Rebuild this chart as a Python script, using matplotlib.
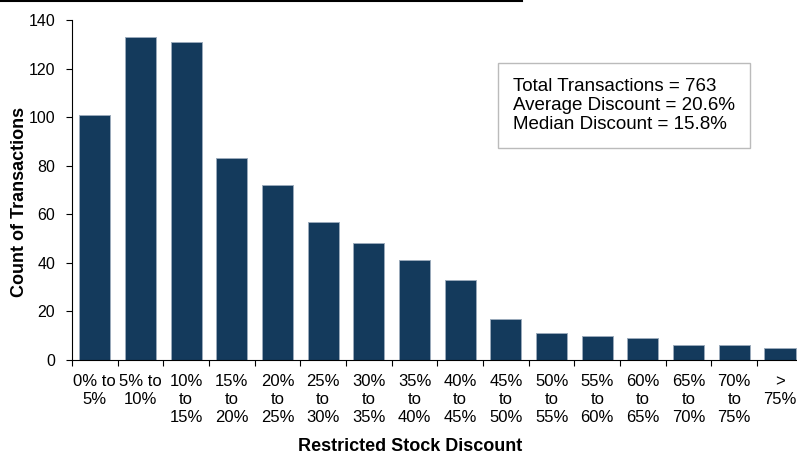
import matplotlib
matplotlib.use('Agg')
import matplotlib.pyplot as plt
from matplotlib.lines import Line2D

plt.rcParams['font.family'] = ['Liberation Sans', 'DejaVu Sans']

# bins of restricted stock discount and transaction counts
categories = ['0% to\n5%', '5% to\n10%', '10%\nto\n15%', '15%\nto\n20%', '20%\nto\n25%',
              '25%\nto\n30%', '30%\nto\n35%', '35%\nto\n40%', '40%\nto\n45%', '45%\nto\n50%',
              '50%\nto\n55%', '55%\nto\n60%', '60%\nto\n65%', '65%\nto\n70%', '70%\nto\n75%',
              '>\n75%']
counts = [101, 133, 131, 83, 72, 57, 48, 41, 33, 17, 11, 10, 9, 6, 6, 5]
y_ticks = [0, 20, 40, 60, 80, 100, 120, 140]
summary = ['Total Transactions = 763', 'Average Discount = 20.6%', 'Median Discount = 15.8%']

fig = plt.figure(figsize=(7.97, 4.54), dpi=100)
ax = fig.add_axes([0.0903, 0.207, 0.917, 0.749])

x = list(range(len(counts)))
ax.bar(x, counts, width=0.68, color='#143a5c', edgecolor='#9aaabb', linewidth=0.7)

ax.set_xlim(-0.5, len(counts) - 0.5)
ax.set_ylim(0, 140)
ax.set_yticks(y_ticks)
ax.tick_params(axis='y', labelsize=11.5, direction='out', length=4, pad=8)
ax.set_xticks([i + 0.5 for i in range(-1, len(counts))], minor=False)
ax.set_xticklabels([])
ax.tick_params(axis='x', direction='out', length=4)
ax.set_xticks(x, minor=True)
ax.set_xticklabels(categories, minor=True, fontsize=12, linespacing=1.25, va='top')
ax.tick_params(axis='x', which='minor', length=0, pad=10)

for side in ['top', 'right']:
    ax.spines[side].set_visible(False)

fig.text(0.024, 0.555, 'Count of Transactions', fontsize=13, fontweight='bold',
         rotation=90, ha='center', va='center')
fig.text(0.515, 0.007, 'Restricted Stock Discount', fontsize=13, fontweight='bold',
         ha='center', va='baseline')

ax.text(0.603, 0.83, '\n'.join(summary), transform=ax.transAxes, fontsize=13.5,
        va='top', ha='left', linespacing=1.15,
        bbox=dict(boxstyle='square,pad=0.8', facecolor='white', edgecolor='#bbbbbb', linewidth=1))

fig.add_artist(Line2D([0, 0.655], [0.998, 0.998], color='black', linewidth=1.5,
                      transform=fig.transFigure))

fig.savefig('out.png', dpi=100)
